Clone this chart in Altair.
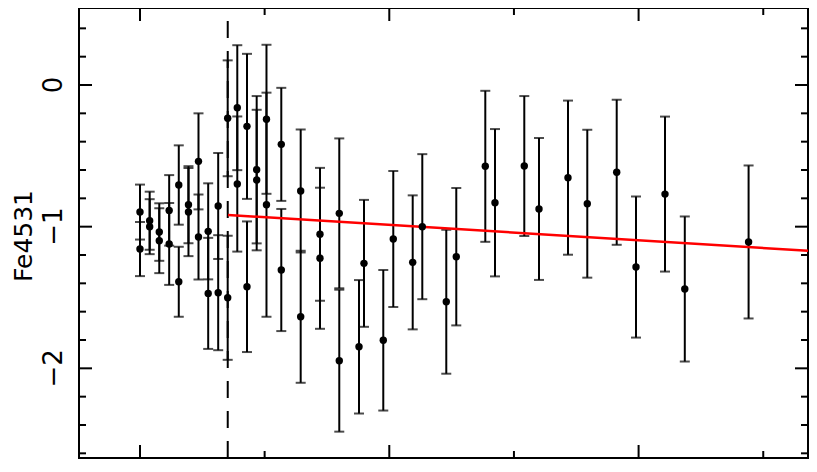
import altair as alt
import pandas as pd

# ---- data ----
radius = [0.000, 0.000, 0.389, 0.389, 0.774, 0.774, 1.171, 1.171, 1.556, 1.556,
          1.945, 1.945, 2.347, 2.347, 2.736, 2.736, 3.137, 3.137, 3.518, 3.518,
          3.903, 3.903, 4.292, 4.292, 4.681, 4.681, 5.074, 5.074, 5.668, 5.668,
          6.446, 6.446, 7.220, 7.220, 7.994, 7.994, 8.785, 8.985, 9.759, 10.160,
          10.939, 11.324, 12.286, 12.687, 13.851, 14.240, 15.415, 16.005, 17.168,
          17.942, 19.122, 19.896, 21.059, 21.853, 24.412]
fe4531 = [-0.897, -1.158, -0.958, -1.000, -1.038, -1.099, -0.885, -1.122, -0.706, -1.389,
          -0.845, -0.897, -0.539, -1.073, -1.033, -1.471, -0.854, -1.466, -0.235, -1.502,
          -0.160, -0.699, -0.292, -1.424, -0.598, -0.671, -0.242, -0.845, -0.419, -1.306,
          -0.748, -1.636, -1.054, -1.223, -0.906, -1.946, -1.848, -1.259, -1.802, -1.087,
          -1.252, -1.000, -1.530, -1.212, -0.574, -0.831, -0.572, -0.875, -0.654,
          -0.838, -0.616, -1.285, -0.770, -1.440, -1.108]
fe_err = [0.194, 0.191, 0.205, 0.194, 0.203, 0.229, 0.249, 0.289, 0.280, 0.247,
          0.272, 0.311, 0.339, 0.300, 0.339, 0.392, 0.374, 0.406, 0.409, 0.438,
          0.441, 0.477, 0.512, 0.461, 0.520, 0.496, 0.526, 0.791, 0.399, 0.431,
          0.434, 0.466, 0.469, 0.498, 0.529, 0.501, 0.471, 0.448, 0.496, 0.480,
          0.473, 0.512, 0.508, 0.485, 0.533, 0.520, 0.494, 0.501, 0.544,
          0.522, 0.512, 0.498, 0.547, 0.512, 0.540]

fit_r = [3.53, 26.795]
fit_fe = [-0.917, -1.170]

break_r = [3.52]

x_major = [0, 10, 20]
x_minor = [5, 15, 25]
y_major = [-2, -1, 0]
y_minor = [-2.6, -2.4, -2.2, -1.8, -1.6, -1.4, -1.2, -0.8, -0.6, -0.4, -0.2, 0.2, 0.4]
y_labels = ["\u22122", "\u22121", "0"]

X_DOM = [-2.446, 26.795]
Y_DOM = [-2.633, 0.5436]

W, H = 729, 450
FONT = "DejaVu Sans"

df = pd.DataFrame({"r": radius, "fe": fe4531, "err": fe_err})
df["lo"] = df["fe"] - df["err"]
df["hi"] = df["fe"] + df["err"]
fit = pd.DataFrame({"r": fit_r, "fe": fit_fe})
brk = pd.DataFrame({"r": break_r, "y0": [Y_DOM[0]], "y1": [Y_DOM[1]]})
xmaj = pd.DataFrame({"v": x_major})
xmin = pd.DataFrame({"v": x_minor})
ymaj = pd.DataFrame({"v": y_major, "lab": y_labels})
ymin = pd.DataFrame({"v": y_minor})

xs = alt.Scale(domain=X_DOM, nice=False, zero=False)
ys = alt.Scale(domain=Y_DOM, nice=False, zero=False)

base = alt.Chart(df)
bars = base.mark_rule(color="black", strokeWidth=2).encode(
    x=alt.X("r:Q", scale=xs, axis=None),
    y=alt.Y("lo:Q", scale=ys, axis=None),
    y2="hi:Q",
)
cap_lo = base.mark_tick(color="black", orient="horizontal", size=10, thickness=2).encode(
    x=alt.X("r:Q", scale=xs, axis=None), y=alt.Y("lo:Q", scale=ys, axis=None))
cap_hi = base.mark_tick(color="black", orient="horizontal", size=10, thickness=2).encode(
    x=alt.X("r:Q", scale=xs, axis=None), y=alt.Y("hi:Q", scale=ys, axis=None))
pts = base.mark_circle(color="black", size=55, opacity=1).encode(
    x=alt.X("r:Q", scale=xs, axis=None), y=alt.Y("fe:Q", scale=ys, axis=None))

fitline = alt.Chart(fit).mark_line(color="#ff0000", strokeWidth=2.5).encode(
    x=alt.X("r:Q", scale=xs, axis=None), y=alt.Y("fe:Q", scale=ys, axis=None))

dashed = alt.Chart(brk).mark_rule(color="black", strokeWidth=2, strokeDash=[17, 13]).encode(
    x=alt.X("r:Q", scale=xs, axis=None),
    y=alt.Y("y0:Q", scale=ys, axis=None),
    y2="y1:Q",
)

def yticks(d, length):
    left = alt.Chart(d).mark_rule(color="black", strokeWidth=2).encode(
        y=alt.Y("v:Q", scale=ys, axis=None), x=alt.value(0), x2=alt.value(length))
    right = alt.Chart(d).mark_rule(color="black", strokeWidth=2).encode(
        y=alt.Y("v:Q", scale=ys, axis=None), x=alt.value(W - length), x2=alt.value(W))
    return left + right

def xticks(d, length):
    bottom = alt.Chart(d).mark_rule(color="black", strokeWidth=2).encode(
        x=alt.X("v:Q", scale=xs, axis=None), y=alt.value(H - length), y2=alt.value(H))
    top = alt.Chart(d).mark_rule(color="black", strokeWidth=2).encode(
        x=alt.X("v:Q", scale=xs, axis=None), y=alt.value(0), y2=alt.value(length))
    return bottom + top

ylabels = alt.Chart(ymaj).mark_text(
    angle=270, align="center", baseline="alphabetic", font=FONT, fontSize=26, color="black"
).encode(y=alt.Y("v:Q", scale=ys, axis=None), x=alt.value(-17), text="lab:N")

ytitle = alt.Chart(pd.DataFrame({"t": ["Fe4531"]})).mark_text(
    angle=270, align="center", baseline="alphabetic", font=FONT, fontSize=25, color="black"
).encode(x=alt.value(-47), y=alt.value(228), text="t:N")

chart = alt.layer(
    yticks(ymaj, 13), yticks(ymin, 7), xticks(xmaj, 13), xticks(xmin, 7),
    dashed, bars, cap_lo, cap_hi, fitline, pts, ylabels, ytitle,
).properties(
    width=W, height=H,
    autosize=alt.AutoSizeParams(type="none"),
    padding={"left": 71, "top": 0, "right": 1, "bottom": 1},
    background="white",
).configure_view(stroke="black", strokeWidth=2)

chart.save("out.html", embed_options={"renderer": "svg", "actions": False})
